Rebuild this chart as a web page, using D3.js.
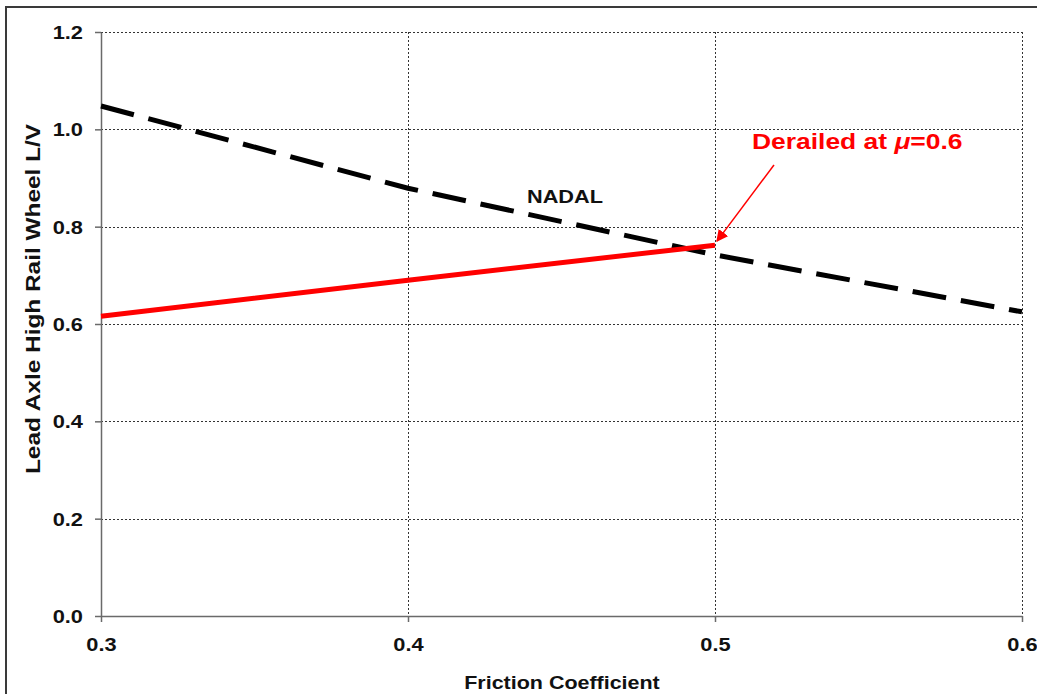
<!DOCTYPE html>
<html>
<head>
<meta charset="utf-8">
<script src="https://cdn.jsdelivr.net/npm/d3@7"></script>
<style>
  html, body { margin: 0; padding: 0; background: #fff; }
  svg { display: block; font-family: "Liberation Sans", Arial, sans-serif; }
</style>
</head>
<body>
<svg id="chart" width="1037" height="694"></svg>
<script>
// Friction coefficient samples
const friction = [0.3, 0.4, 0.5, 0.6];
// Nadal limit L/V
const nadalLV = [1.048, 0.879, 0.742, 0.625];
// Lead axle high rail wheel L/V (simulation up to derailment)
const simFriction = [0.3, 0.4, 0.5];
const simLV = [0.616, 0.690, 0.762];
// Axis ticks
const xTicks = [0.3, 0.4, 0.5, 0.6];
const yTicks = [0.0, 0.2, 0.4, 0.6, 0.8, 1.0, 1.2];

const svg = d3.select("#chart");
const W = 1037, H = 694;
const m = { left: 101, right: 1022, top: 32, bottom: 616 };
const SX = 1.18; // wide lettering

const x = d3.scaleLinear().domain([0.3, 0.6]).range([m.left, m.right]);
const y = d3.scaleLinear().domain([0, 1.2]).range([m.bottom, m.top]);

// outer frame (top and left edges)
svg.append("path")
  .attr("d", `M6,${H} L6,7 L${W},7`)
  .attr("fill", "none").attr("stroke", "#3a3a3a").attr("stroke-width", 2);

// gridlines
const grid = svg.append("g").attr("stroke", "#333").attr("stroke-width", 1).attr("stroke-dasharray", "2,2");
grid.selectAll("line.h").data(yTicks.filter(d => d > 0)).join("line")
  .attr("x1", m.left).attr("x2", m.right)
  .attr("y1", d => Math.round(y(d)) + 0.5).attr("y2", d => Math.round(y(d)) + 0.5);
grid.selectAll("line.v").data(xTicks.filter(d => d > 0.3)).join("line")
  .attr("y1", m.top).attr("y2", m.bottom)
  .attr("x1", d => Math.round(x(d)) + 0.5).attr("x2", d => Math.round(x(d)) + 0.5);

// axes
const xAxis = d3.axisBottom(x).tickValues(xTicks).tickFormat(d3.format(".1f")).tickSizeInner(6).tickSizeOuter(0);
const yAxis = d3.axisLeft(y).tickValues(yTicks).tickFormat(d3.format(".1f")).tickSizeInner(6).tickSizeOuter(0);

const gx = svg.append("g").attr("transform", `translate(0,${m.bottom})`).call(xAxis);
const gy = svg.append("g").attr("transform", `translate(${m.left},0)`).call(yAxis);
[gx, gy].forEach(g => {
  g.select(".domain").attr("stroke", "#6a6a6a").attr("stroke-width", 1.5);
  g.selectAll(".tick line").attr("stroke", "#6a6a6a").attr("stroke-width", 1.5);
  g.selectAll(".tick text").attr("font-size", 18.5).attr("font-weight", "bold")
    .attr("fill", "#111").attr("font-family", "Liberation Sans, Arial, sans-serif")
    .attr("x", 0).attr("y", 0);
});
gx.selectAll(".tick text").attr("dy", 0).attr("transform", `translate(0,35) scale(${SX},1)`);
gy.selectAll(".tick text").attr("dy", "0.35em").attr("transform", `translate(-18,0) scale(${SX},1)`);

// axis titles
svg.append("text")
  .attr("transform", `translate(562,689) scale(${SX},1)`).attr("text-anchor", "middle")
  .attr("font-size", 18.2).attr("font-weight", "bold").attr("fill", "#111")
  .text("Friction Coefficient");
svg.append("text")
  .attr("transform", "translate(40,299) rotate(-90) scale(1.22,1)").attr("text-anchor", "middle")
  .attr("font-size", 20).attr("font-weight", "bold").attr("fill", "#111")
  .text("Lead Axle High Rail Wheel L/V");

const line = d3.line().x(d => x(d[0])).y(d => y(d[1]));

// Nadal limit (dashed black)
svg.append("path")
  .datum(friction.map((f, i) => [f, nadalLV[i]]))
  .attr("d", line).attr("fill", "none")
  .attr("stroke", "#000").attr("stroke-width", 5)
  .attr("stroke-dasharray", "34,15");

// simulated L/V (solid red)
svg.append("path")
  .datum(simFriction.map((f, i) => [f, simLV[i]]))
  .attr("d", line).attr("fill", "none")
  .attr("stroke", "#ff0000").attr("stroke-width", 5);

// labels
svg.append("text")
  .attr("transform", `translate(565,203) scale(${SX},1)`).attr("text-anchor", "middle")
  .attr("font-size", 18.4).attr("font-weight", "bold").attr("fill", "#111")
  .text("NADAL");

const ann = svg.append("text")
  .attr("transform", `translate(752,149) scale(${SX},1)`)
  .attr("font-size", 22.4).attr("font-weight", "bold").attr("fill", "#ff0000");
ann.append("tspan").text("Derailed at ");
ann.append("tspan").attr("font-style", "italic").text("\u03bc");
ann.append("tspan").text("=0.6");

// arrow pointing to the end of the red curve
const defs = svg.append("defs");
defs.append("marker")
  .attr("id", "arrowhead").attr("viewBox", "0 0 10 10")
  .attr("refX", 9).attr("refY", 5)
  .attr("markerWidth", 12).attr("markerHeight", 12)
  .attr("markerUnits", "userSpaceOnUse")
  .attr("orient", "auto")
  .append("path").attr("d", "M0,0 L10,5 L0,10 z").attr("fill", "#ff0000");

const endPt = [x(simFriction[simFriction.length - 1]) + 2, y(simLV[simLV.length - 1]) - 4];
svg.append("line")
  .attr("x1", 774).attr("y1", 165)
  .attr("x2", endPt[0]).attr("y2", endPt[1])
  .attr("stroke", "#ff0000").attr("stroke-width", 1.5)
  .attr("marker-end", "url(#arrowhead)");
</script>
</body>
</html>
